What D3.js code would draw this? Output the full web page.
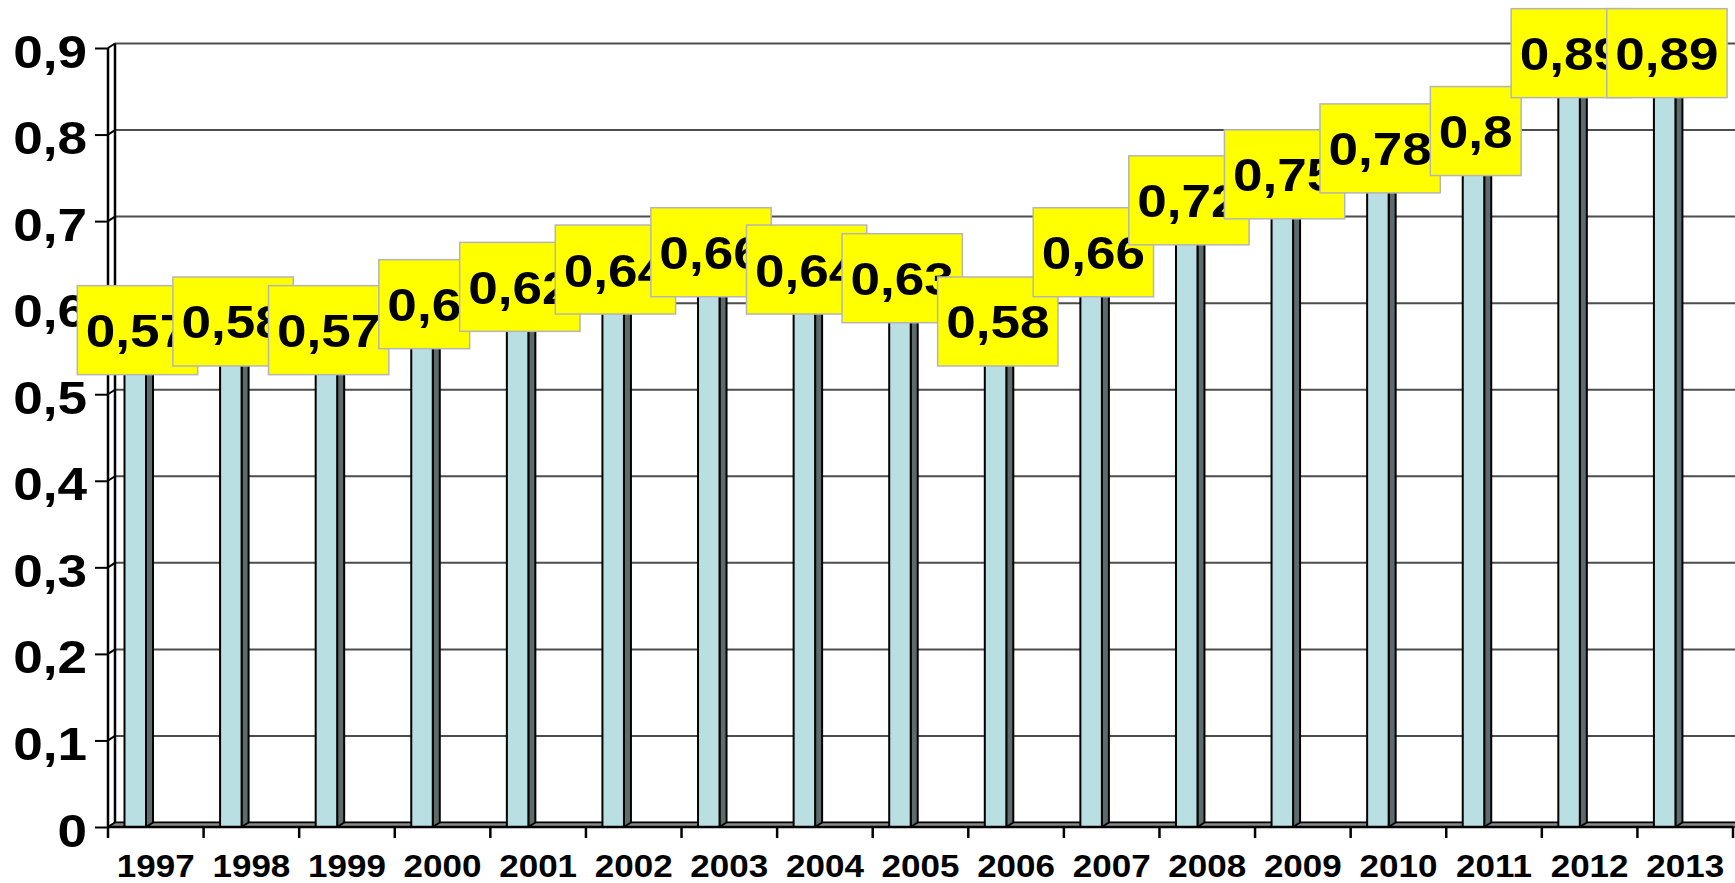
<!DOCTYPE html>
<html>
<head>
<meta charset="utf-8">
<script src="https://cdn.jsdelivr.net/npm/d3@7"></script>
<style>
  html, body { margin: 0; padding: 0; background: #fff; }
  svg { display: block; }
  text { font-family: "Liberation Sans", Arial, sans-serif; font-weight: bold; fill: #000; }
</style>
</head>
<body>
<svg id="chart" width="1735" height="883"></svg>
<script>
// Yearly values, one column per year
const years = ["1997","1998","1999","2000","2001","2002","2003","2004","2005","2006","2007","2008","2009","2010","2011","2012","2013"];
const values = [0.57, 0.58, 0.57, 0.6, 0.62, 0.64, 0.66, 0.64, 0.63, 0.58, 0.66, 0.72, 0.75, 0.78, 0.8, 0.89, 0.89];
const yTicks = [0, 0.1, 0.2, 0.3, 0.4, 0.5, 0.6, 0.7, 0.8, 0.9];
const yTickLabels = ["0", "0,1", "0,2", "0,3", "0,4", "0,5", "0,6", "0,7", "0,8", "0,9"];

const svg = d3.select("#chart");
const W = 1735, H = 883;

// plot frame (front edge) and 3D depth offset
const plotLeft = 108, plotRight = 1733, plotTop = 48, plotBottom = 827;
const dx = 7, dy = -4.5;
const sx = 1.13; // horizontal stretch applied to all text

const x = d3.scaleBand().domain(years).range([plotLeft, plotRight]).padding(0);
const y = d3.scaleLinear().domain([0, 0.9]).range([plotBottom, plotTop]);
const bw = x.bandwidth();

const fmt = v => String(v).replace(".", ",");

// back-wall gridlines
svg.append("g").selectAll("line").data(yTicks).join("line")
  .attr("x1", plotLeft + dx).attr("x2", W + 10)
  .attr("y1", d => y(d) + dy).attr("y2", d => y(d) + dy)
  .attr("stroke", "#4d4d4d").attr("stroke-width", 2);

// left side wall: back edge and diagonal connectors at each tick
svg.append("line")
  .attr("x1", plotLeft + dx).attr("x2", plotLeft + dx)
  .attr("y1", y(0.9) + dy).attr("y2", y(0) + dy)
  .attr("stroke", "#000").attr("stroke-width", 2.5);
svg.append("g").selectAll("line").data(yTicks).join("line")
  .attr("x1", plotLeft).attr("x2", plotLeft + dx)
  .attr("y1", d => y(d)).attr("y2", d => y(d) + dy)
  .attr("stroke", "#000").attr("stroke-width", 2);

// floor
svg.append("path")
  .attr("d", `M${plotLeft},${y(0)} L${plotLeft + dx},${y(0) + dy} L${W + 10},${y(0) + dy} L${W + 10},${y(0)} Z`)
  .attr("fill", "#8a8a8a").attr("stroke", "#000").attr("stroke-width", 1.5);

// columns: side face, top face, front face
const bars = svg.append("g").selectAll("g").data(years).join("g");
const fx = d => x(d) + 16.5;
const fw = 21.5;
bars.append("path")
  .attr("d", (d, i) => {
    const x0 = fx(d) + fw, yt = y(values[i]);
    return `M${x0},${yt} L${x0 + dx},${yt + dy} L${x0 + dx},${y(0) + dy} L${x0},${y(0)} Z`;
  })
  .attr("fill", "#5c6b6b").attr("stroke", "#000").attr("stroke-width", 2).attr("stroke-linejoin", "round");
bars.append("path")
  .attr("d", (d, i) => {
    const x0 = fx(d), yt = y(values[i]);
    return `M${x0},${yt} L${x0 + dx},${yt + dy} L${x0 + fw + dx},${yt + dy} L${x0 + fw},${yt} Z`;
  })
  .attr("fill", "#d9eff1").attr("stroke", "#000").attr("stroke-width", 2);
bars.append("rect")
  .attr("x", d => fx(d)).attr("width", fw)
  .attr("y", (d, i) => y(values[i]))
  .attr("height", (d, i) => y(0) - y(values[i]))
  .attr("fill", "#b9dfe3").attr("stroke", "#000").attr("stroke-width", 2);

// value axis
const yAxis = d3.axisLeft(y).tickValues(yTicks).tickSize(13).tickPadding(0)
  .tickFormat((d, i) => yTickLabels[i]);
const gy = svg.append("g").attr("transform", `translate(${plotLeft},0)`).call(yAxis);
gy.select(".domain").attr("stroke", "#000").attr("stroke-width", 2.5)
  .attr("d", `M0,${y(0.9)}V${y(0)}`);
gy.selectAll(".tick line").attr("stroke", "#000").attr("stroke-width", 2);
gy.selectAll(".tick text")
  .attr("font-size", 47).attr("font-weight", "bold")
  .attr("font-family", "Liberation Sans, Arial, sans-serif")
  .attr("fill", "#000")
  .attr("text-anchor", "end")
  .attr("x", -21 / sx).attr("dy", null).attr("y", 19)
  .attr("transform", `scale(${sx},1)`);

// category axis
const xAxis = d3.axisBottom(x).tickSize(11).tickSizeOuter(0).tickFormat(d => d);
const gx = svg.append("g").attr("transform", `translate(0,${plotBottom})`).call(xAxis);
gx.select(".domain").attr("stroke", "#000").attr("stroke-width", 2.5)
  .attr("d", `M${plotLeft},0H${plotRight}`);
gx.selectAll(".tick line").attr("stroke", "#000").attr("stroke-width", 2.5)
  .attr("transform", `translate(${-bw / 2},0)`);
// closing tick at the far end of the axis
gx.append("line").attr("x1", plotRight).attr("x2", plotRight).attr("y1", 0).attr("y2", 11)
  .attr("stroke", "#000").attr("stroke-width", 2.5);
// labels are stretched about each tick's own origin so they stay centred in their band
gx.selectAll(".tick text")
  .attr("font-size", 31).attr("font-weight", "bold")
  .attr("font-family", "Liberation Sans, Arial, sans-serif")
  .attr("fill", "#000")
  .attr("text-anchor", "middle")
  .attr("x", 0).attr("y", 50).attr("dy", null)
  .attr("transform", `scale(${sx},1)`);

// data labels on yellow boxes, each drawn over the previous one
const labels = svg.append("g");
years.forEach((yr, i) => {
  const v = values[i];
  const g = labels.append("g");
  const cx = x(yr) + 29.5;
  const yc = y(v);
  const t = g.append("text")
    .attr("font-size", 47)
    .attr("text-anchor", "middle")
    .attr("transform", `translate(${cx},${yc + 13.5}) scale(${sx},1)`)
    .text(fmt(v));
  const tw = t.node().getComputedTextLength() * sx;
  const bwid = tw + 17;
  g.insert("rect", "text")
    .attr("x", cx - bwid / 2).attr("width", bwid)
    .attr("y", yc - 48).attr("height", 89)
    .attr("fill", "#ffff00").attr("stroke", "#b5b5b5").attr("stroke-width", 1.5);
});
</script>
</body>
</html>
